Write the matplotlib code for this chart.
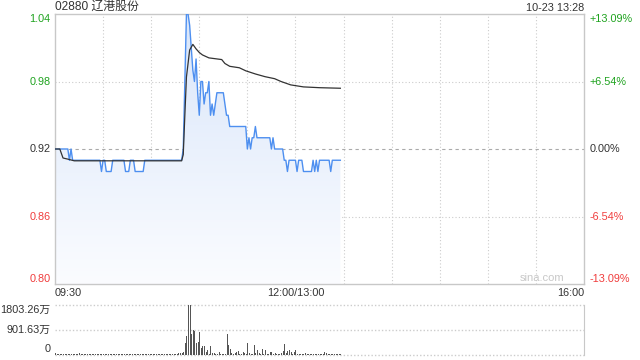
import numpy as np
import matplotlib
matplotlib.use("Agg")
import matplotlib.pyplot as plt
from matplotlib.colors import LinearSegmentedColormap

plt.rcParams['font.family'] = ['Liberation Sans', 'Noto Sans CJK SC', 'DejaVu Sans']

# --- data (minutes from 09:30, lunch break removed) ---
title = "02880 辽港股份"
stamp = "10-23 13:28"
prev_close = 0.92

# last price, as (level, number of minutes)
price_lvl = [0.92, 0.91, 0.92, 0.91, 0.90, 0.91, 0.90, 0.91, 0.90, 0.91, 0.90, 0.91,
             0.92, 0.98, 1.04, 1.03, 1.01, 0.99, 0.98, 1.00, 0.97, 0.95, 0.98, 0.96,
             0.97, 0.98, 0.95, 0.96, 0.95, 0.96, 0.97, 0.96, 0.95, 0.94, 0.92, 0.93,
             0.92, 0.93, 0.94, 0.93, 0.92, 0.93, 0.92, 0.91, 0.90, 0.91, 0.90, 0.91,
             0.90, 0.91, 0.90, 0.91, 0.90, 0.91, 0.90, 0.91]
price_run = [9, 1, 1, 18, 1, 2, 4, 8, 3, 3, 6, 24,
             1, 1, 2, 1, 1, 1, 1, 1, 1, 1, 2, 1,
             2, 1, 1, 1, 1, 1, 5, 1, 2, 11, 1, 1,
             1, 2, 1, 9, 1, 1, 6, 2, 1, 5, 1, 3,
             6, 1, 1, 1, 1, 7, 1, 6]

# average price (minute, value)
avg_min = [0, 3, 5, 8, 12, 79, 80, 81, 82, 84, 86, 88, 90, 92, 96, 104, 106, 109,
           115, 119, 125, 131, 137, 141, 147, 155, 165, 178]
avg_val = [0.920, 0.920, 0.912, 0.911, 0.9095, 0.9095, 0.915, 0.950, 0.984, 1.008,
           1.013, 1.009, 1.0058, 1.0036, 1.001, 0.9995, 0.996, 0.9935, 0.9922, 0.9895,
           0.9867, 0.9843, 0.9825, 0.9800, 0.9770, 0.9752, 0.9745, 0.9740]

# volume per minute, in 万 shares
volume = [38, 22, 15, 18, 25, 12, 20, 16, 30, 14,
          18, 22, 10, 15, 26, 60, 20, 12, 18, 14,
          22, 16, 10, 20, 15, 18, 12, 25, 22, 30,
          14, 16, 20, 25, 18, 12, 15, 10, 22, 14,
          18, 12, 16, 20, 28, 14, 25, 12, 18, 15,
          22, 16, 10, 14, 20, 12, 18, 15, 10, 14,
          12, 20, 16, 18, 10, 14, 12, 15, 18, 22,
          10, 14, 16, 12, 20, 18, 25, 40, 60, 60,
          97, 437, 667, 1803.26, 1803.26, 765, 886, 870, 425, 460,
          810, 243, 303, 303, 97, 158, 36, 303, 60, 60,
          36, 20, 97, 20, 36, 36, 36, 752, 340, 218,
          60, 36, 60, 97, 133, 36, 36, 97, 60, 36,
          425, 60, 36, 20, 340, 60, 158, 60, 36, 194,
          30, 158, 20, 20, 73, 73, 20, 60, 20, 20,
          20, 60, 133, 376, 60, 133, 158, 97, 20, 97,
          158, 20, 30, 20, 30, 20, 60, 30, 20, 30,
          20, 25, 30, 20, 25, 30, 20, 25, 73, 60,
          30, 20, 25, 30, 20, 25, 30, 20, 25]
vol_max = 1803.26

y_ticks = [0.80, 0.86, 0.92, 0.98, 1.04]
pct_labels = ["-13.09%", "-6.54%", "0.00%", "+6.54%", "+13.09%"]
x_labels = ["09:30", "12:00/13:00", "16:00"]
x_label_pos = [0, 150, 330]
vol_labels = ["0", "901.63万", "1803.26万"]

price = np.repeat(price_lvl, price_run)
minutes = np.arange(len(price))

green = "#1fa31f"
red = "#f03c3c"
dark = "#333333"
grid = "#cccccc"

fig = plt.figure(figsize=(6.4, 3.6), dpi=100)
ax = fig.add_axes([55 / 640, 76 / 360, 529 / 640, 270 / 360])
axv = fig.add_axes([55 / 640, 5.5 / 360, 529 / 640, 49.5 / 360])

ax.set_xlim(0, 330)
ax.set_ylim(0.80, 1.04)
for s in ax.spines.values():
    s.set_color("#c8c8c8")
    s.set_linewidth(1)
ax.set_xticks([])
ax.set_yticks([])

# grid
for m in range(30, 330, 30):
    ax.axvline(m, color=grid, lw=0.8, ls=(0, (1, 2)), zorder=0)
for v in [0.86, 0.98]:
    ax.axhline(v, color=grid, lw=0.8, ls=(0, (1, 2)), zorder=0)
ax.axhline(prev_close, color="#aaaaaa", lw=0.8, ls=(0, (3, 3)), zorder=0)

# gradient area under the price
fill = ax.fill_between(minutes, price, 0.80, facecolor="none", edgecolor="none")
cmap = LinearSegmentedColormap.from_list("g", ["#fbfcff", "#d9e6fa"])
grad = np.linspace(0, 1, 256).reshape(-1, 1)
im = ax.imshow(grad, cmap=cmap, origin="lower", aspect="auto",
               extent=[0, minutes[-1], 0.80, 1.04], zorder=1)
im.set_clip_path(fill.get_paths()[0], transform=ax.transData)

ax.plot(minutes, price, color="#4d8ff0", lw=1, zorder=3)
ax.plot(avg_min, avg_val, color="#333333", lw=0.9, zorder=4)

# price labels left and percentage labels right
ytr = ax.get_yaxis_transform()
for i, (v, p) in enumerate(zip(y_ticks, pct_labels)):
    if v > prev_close:
        c = green
    elif v < prev_close:
        c = red
    else:
        c = dark
    va = "center"
    if i == 0:
        va = "bottom"
    if i == len(y_ticks) - 1:
        va = "top"
    ax.text(-0.008, v, "%.2f" % v, transform=ytr, ha="right", va=va, color=c, fontsize=7.8)
    ax.text(1.011, v, p, transform=ytr, ha="left", va=va, color=c, fontsize=7.8)

# time labels
xtr = ax.get_xaxis_transform()
for lab, m, ha in zip(x_labels, x_label_pos, ["left", "center", "right"]):
    ax.text(m, -0.033, lab, transform=xtr, ha=ha, va="center", color=dark, fontsize=7.8)

ax.text(0, 1.027, title, transform=ax.transAxes, ha="left", va="center", color=dark, fontsize=8.6)
ax.text(1, 1.024, stamp, transform=ax.transAxes, ha="right", va="center", color=dark, fontsize=7.8)
ax.text(0.962, 0.004, "sina.com", transform=ax.transAxes, ha="right", va="bottom",
        color="#c8c8c8", fontsize=8)

# volume panel
axv.set_xlim(0, 330)
axv.set_ylim(0, vol_max)
for k in ["left", "top", "bottom"]:
    axv.spines[k].set_visible(False)
axv.spines["right"].set_color("#c8c8c8")
axv.set_xticks([])
axv.set_yticks([])
for v in [0, vol_max / 2, vol_max]:
    axv.axhline(v, color=grid, lw=1, ls=(0, (1, 1.5)), zorder=0, clip_on=False)
axv.vlines(np.arange(len(volume)), 0, volume, color="#555555", lw=0.72,
           antialiased=False, zorder=2)

vtr = axv.get_yaxis_transform()
for lab, v, va in zip(vol_labels, [0, vol_max / 2, vol_max], ["bottom", "center", "top"]):
    axv.text(-0.009, v, lab, transform=vtr, ha="right", va=va, color=dark, fontsize=7.8)

fig.savefig("out.png", dpi=100)
